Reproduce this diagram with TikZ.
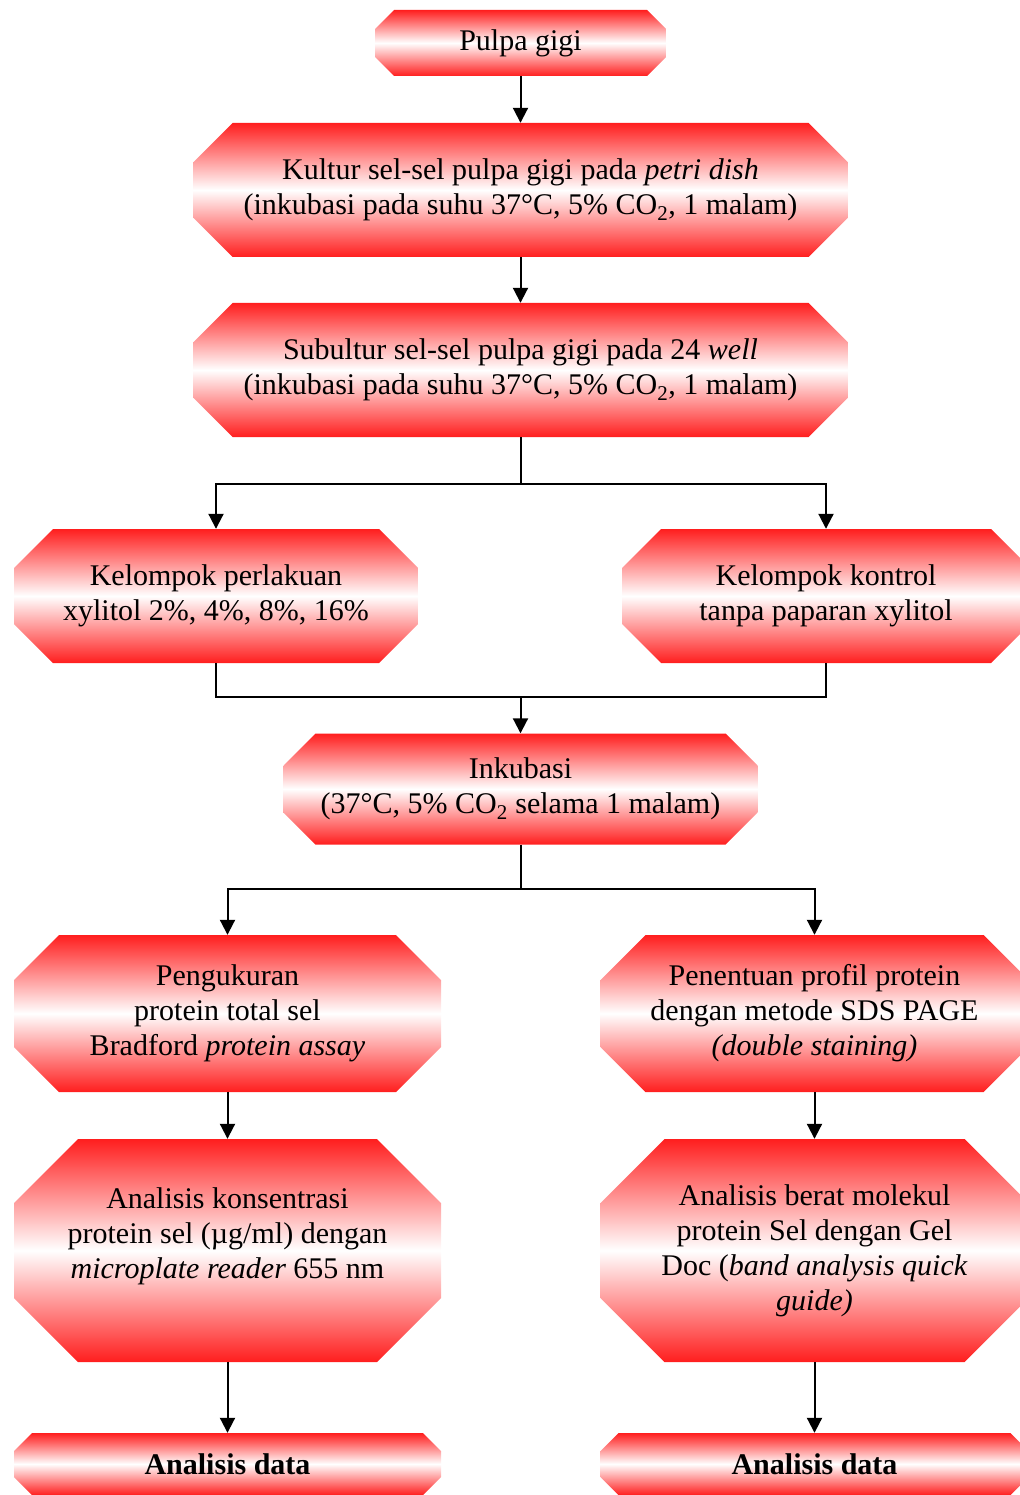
\documentclass[tikz,border=0pt]{standalone}
\usepackage{fontspec}
\setmainfont{Liberation Serif}
\usetikzlibrary{arrows.meta}
\definecolor{boxred}{RGB}{255,30,30}

\begin{document}
\begin{tikzpicture}[x=1pt,y=-1pt,
        corner cut/.code={\def\boxcut{#1}},corner cut=20pt,
        box/.style={rectangle,inner sep=0pt,align=center,
            font=\fontsize{30}{35}\selectfont,
            path picture={\shade[top color=boxred,bottom color=boxred,middle color=white]
                ([xshift=\boxcut]path picture bounding box.north west)
                -- ([xshift=-\boxcut]path picture bounding box.north east)
                -- ([yshift=-\boxcut]path picture bounding box.north east)
                -- ([yshift=\boxcut]path picture bounding box.south east)
                -- ([xshift=-\boxcut]path picture bounding box.south east)
                -- ([xshift=\boxcut]path picture bounding box.south west)
                -- ([yshift=\boxcut]path picture bounding box.south west)
                -- ([yshift=-\boxcut]path picture bounding box.north west) -- cycle;}},
        link/.style={line width=2pt},
        flow/.style={line width=2pt,-{Triangle[length=15pt,width=15pt]}}]
\useasboundingbox (0,0) rectangle (1019,1495);

% boxes
\node[box,minimum width=291pt,minimum height=66pt,corner cut=19pt] (pulpa) at (520.5,43) {Pulpa gigi};
\node[box,minimum width=654pt,minimum height=134pt,corner cut=39pt] (kultur) at (520.5,190)
    {Kultur sel-sel pulpa gigi pada \textit{petri dish}\\(inkubasi pada suhu 37°C, 5\% CO\textsubscript{2}, 1 malam)};
\node[box,minimum width=654pt,minimum height=134pt,corner cut=39pt] (subkultur) at (520.5,370)
    {Subultur sel-sel pulpa gigi pada 24 \textit{well}\\(inkubasi pada suhu 37°C, 5\% CO\textsubscript{2}, 1 malam)};
\node[box,minimum width=404pt,minimum height=134pt,corner cut=39pt] (perlakuan) at (216,596)
    {Kelompok perlakuan\\xylitol 2\%, 4\%, 8\%, 16\%};
\node[box,minimum width=408pt,minimum height=134pt,corner cut=39pt] (kontrol) at (826,596)
    {Kelompok kontrol\\tanpa paparan xylitol};
\node[box,minimum width=474pt,minimum height=111pt,corner cut=32pt] (inkubasi) at (520.5,789)
    {Inkubasi\\(37°C, 5\% CO\textsubscript{2} selama 1 malam)};
\node[box,minimum width=427pt,minimum height=157pt,corner cut=45pt] (pengukuran) at (227.5,1013.5)
    {Pengukuran\\protein total sel\\Bradford \textit{protein assay}};
\node[box,minimum width=428pt,minimum height=157pt,corner cut=45pt] (penentuan) at (814.5,1013.5)
    {Penentuan profil protein\\dengan metode SDS PAGE\\\textit{(double staining)}};
\node[box,minimum width=427pt,minimum height=223pt,corner cut=64pt] (konsentrasi) at (227.5,1250.5)
    {Analisis konsentrasi\\protein sel (µg/ml) dengan\\\textit{microplate reader} 655 nm\\\mbox{}};
\node[box,minimum width=428pt,minimum height=223pt,corner cut=64pt] (berat) at (814.5,1250.5)
    {Analisis berat molekul\\protein Sel dengan Gel\\Doc (\textit{band analysis quick}\\\textit{guide)}};
\node[box,minimum width=427pt,minimum height=62pt,corner cut=18pt] (dataA) at (227.5,1464)
    {\textbf{Analisis data}};
\node[box,minimum width=428pt,minimum height=62pt,corner cut=18pt] (dataB) at (814.5,1464)
    {\textbf{Analisis data}};

% connectors
\coordinate (split1) at (520.5,484);
\coordinate (merge) at (520.5,697);
\coordinate (split2) at (520.5,889);

\draw[flow] (pulpa) -- (kultur);
\draw[flow] (kultur) -- (subkultur);
\draw[link] (subkultur) -- (split1);
\draw[flow] (split1) -| (perlakuan);
\draw[flow] (split1) -| (kontrol);
\draw[link] (perlakuan) |- (merge) -| (kontrol);
\draw[flow] (merge) -- (inkubasi);
\draw[link] (inkubasi) -- (split2);
\draw[flow] (split2) -| (pengukuran);
\draw[flow] (split2) -| (penentuan);
\draw[flow] (pengukuran) -- (konsentrasi);
\draw[flow] (penentuan) -- (berat);
\draw[flow] (konsentrasi) -- (dataA);
\draw[flow] (berat) -- (dataB);
\end{tikzpicture}
\end{document}
